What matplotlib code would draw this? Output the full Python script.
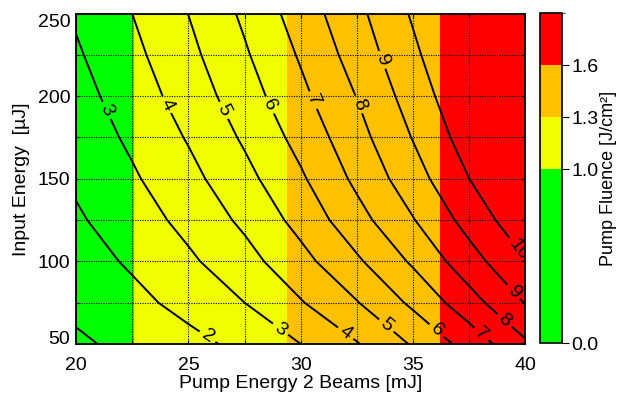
import numpy as np
import matplotlib
matplotlib.use("Agg")
import matplotlib.pyplot as plt
from matplotlib.colors import ListedColormap, BoundaryNorm
from matplotlib.cm import ScalarMappable

plt.rcParams['font.family'] = ['Liberation Sans', 'DejaVu Sans']

# pump energy of both beams [mJ] and input energy [uJ] of the grid
pump_energy = [20.0, 22.5, 25.0, 27.5, 30.0, 32.5, 35.0, 37.5, 40.0]
input_energy = [50, 75, 100, 125, 150, 175, 200, 225, 250]

# output energy [mJ], rows = input energy, cols = pump energy
output_energy = [
    [0.85, 1.24, 1.70, 2.26, 3.00, 3.94, 5.10, 6.39, 7.85],
    [1.22, 1.72, 2.32, 3.00, 3.93, 4.95, 6.20, 7.60, 9.05],
    [1.55, 2.14, 2.83, 3.64, 4.68, 5.85, 7.15, 8.60, 9.95],
    [1.87, 2.52, 3.29, 4.20, 5.33, 6.64, 7.95, 9.37, 10.72],
    [2.15, 2.87, 3.70, 4.70, 5.86, 7.22, 8.58, 10.00, 11.35],
    [2.40, 3.18, 4.08, 5.14, 6.33, 7.65, 9.05, 10.48, 11.85],
    [2.64, 3.48, 4.44, 5.54, 6.76, 8.03, 9.45, 10.86, 12.25],
    [2.88, 3.75, 4.74, 5.88, 7.11, 8.43, 9.80, 11.20, 12.62],
    [3.12, 4.00, 5.01, 6.18, 7.46, 8.75, 10.12, 11.50, 12.95],
]
contour_levels = [1, 2, 3, 4, 5, 6, 7, 8, 9, 10]

# pump fluence bands [J/cm2] and where they fall on the pump energy axis
fluence_bounds = [0.0, 1.0, 1.3, 1.6, 1.9]
fluence_ticks = [0.0, 1.0, 1.3, 1.6]
band_edges = [20.0, 22.6, 29.4, 36.2, 40.0]
band_fluence = [0.9, 1.15, 1.45, 1.7]
band_colors = ['#00ff00', '#f0ff00', '#ffc000', '#ff0000']

# where the contour labels sit
label_pos = [(21.39, 191.5), (24.14, 195.6), (26.59, 191.5), (28.59, 194.5),
             (30.55, 197.6), (32.48, 194.5), (33.59, 221.8),
             (25.99, 57.2), (29.11, 59.2), (32.03, 57.2), (33.81, 61.2),
             (36.11, 59.2), (38.11, 57.2), (39.0, 63.2), (39.37, 80.4),
             (39.45, 104.7)]

fig = plt.figure(figsize=(6.17, 3.94), dpi=100)
ax = fig.add_axes([0.1232, 0.1269, 0.7285, 0.8388])
cax = fig.add_axes([0.8752, 0.1294, 0.0357, 0.8376])

cmap = ListedColormap(band_colors)
norm = BoundaryNorm(fluence_bounds, cmap.N)

ax.pcolormesh(band_edges, [input_energy[0], input_energy[-1]], [band_fluence],
              cmap=cmap, norm=norm, zorder=0)

X, Y = np.meshgrid(pump_energy, input_energy)
cs = ax.contour(X, Y, np.array(output_energy), levels=contour_levels,
                colors='k', linewidths=1.4, zorder=2)
ax.clabel(cs, manual=label_pos, inline=True, fontsize=14, fmt='%d',
          inline_spacing=4)

ax.set_xlim(20, 40)
ax.set_ylim(50, 250)
ax.set_xticks([20, 25, 30, 35, 40])
ax.set_xticks([22.5, 27.5, 32.5, 37.5], minor=True)
ax.set_yticks([50, 100, 150, 200, 250])
ax.set_yticks([75, 125, 175, 225], minor=True)
ax.set_axisbelow('line')
ax.grid(which='both', color='k', linestyle=(0, (1, 1.2)), linewidth=0.8)
ax.tick_params(which='both', direction='in', top=True, right=True,
               labelsize=14, length=3, width=0.8)
ax.tick_params(axis='x', pad=9)
ax.tick_params(axis='y', pad=4)
for sp in ax.spines.values():
    sp.set_linewidth(1.3)

# first and last y labels are pulled inside like in the original plot
ylabels = ax.get_yticklabels()
ylabels[0].set_verticalalignment('baseline')
ylabels[-1].set_verticalalignment('top')

ax.set_xlabel('Pump Energy 2 Beams [mJ]', fontsize=14, labelpad=1)
ax.set_ylabel('Input Energy  [µJ]', fontsize=14, labelpad=6)

cb = fig.colorbar(ScalarMappable(norm=norm, cmap=cmap), cax=cax,
                  ticks=fluence_ticks, spacing='proportional', format='%.1f')
cb.outline.set_linewidth(1.2)
cax.tick_params(labelsize=14, length=5, width=0.8, pad=2)
cb.set_label('Pump Fluence [J/cm²]', fontsize=13, labelpad=1)

fig.savefig('out.png', dpi=100)
